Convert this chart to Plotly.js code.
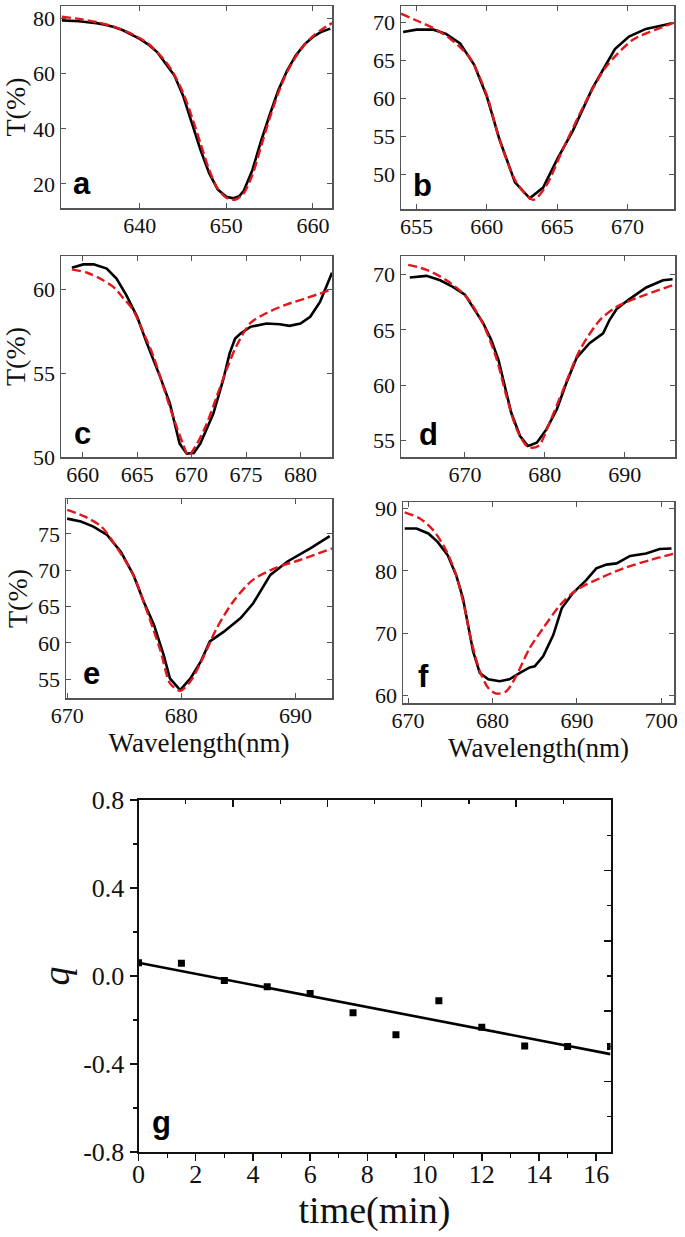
<!DOCTYPE html>
<html>
<head>
<meta charset="utf-8">
<script src="https://cdn.plot.ly/plotly-3.0.1.min.js"></script>
<style>html,body{margin:0;padding:0;background:#fff;}#chart{width:685px;height:1237px;}</style>
</head>
<body>
<div id="chart"></div>
<script>
// ---------------- data ----------------
// panel a
const aWl   = [631, 632, 633, 634, 635, 636, 637, 638, 639, 640, 641, 642, 643, 644, 645, 646, 647, 648, 649, 650, 650.8, 651.5, 652, 653, 654, 655, 656, 657, 658, 659, 660, 661, 662];
const aMeas = [79.3, 79.2, 79.0, 78.6, 78.3, 77.7, 76.9, 75.8, 74.3, 72.6, 70.5, 67.8, 63.6, 59.3, 52.0, 42.0, 32.5, 24.0, 18.0, 15.4, 14.8, 15.6, 17.5, 25.0, 35.5, 45.0, 54.0, 61.0, 66.5, 70.5, 73.3, 75.2, 76.3];
const aFitWl = [631, 633, 635, 637, 639, 641, 643, 644, 645, 646, 647, 648, 649, 650, 651, 652, 653, 654, 655, 656, 657, 658, 659, 660, 661, 662.2];
const aFit   = [80.6, 79.8, 78.7, 77.0, 74.5, 70.8, 64.3, 59.5, 53.0, 44.5, 34.8, 25.3, 18.3, 15.0, 14.3, 16.6, 23.2, 33.5, 43.8, 53.0, 60.5, 66.0, 70.4, 73.6, 76.0, 78.3];
// panel b
const bWl   = [654.05, 655.0, 656.2, 657.1, 658.1, 659.1, 660.0, 660.9, 662.0, 663.05, 664.0, 665.05, 666.1, 667.5, 669.1, 670.1, 671.3, 673.1];
const bMeas = [68.7, 69.0, 69.0, 68.45, 67.2, 64.4, 60.25, 54.6, 49.0, 46.9, 48.3, 52.2, 55.7, 61.3, 66.45, 68.1, 69.1, 69.8];
const bFitWl = [653.9, 655.0, 656.2, 657.4, 658.8, 660.0, 660.9, 662.1, 663.3, 664.2, 665.4, 667.1, 668.5, 670.4, 672.0, 673.3];
const bFit   = [71.1, 70.2, 69.2, 67.8, 65.3, 60.4, 54.6, 49.0, 46.7, 48.5, 53.3, 59.8, 64.2, 67.7, 69.0, 69.9];
// panel c
const cWl   = [659.0, 660.05, 661.0, 662.2, 663.1, 664.0, 665.0, 665.9, 667.1, 668.0, 668.9, 669.55, 670.2, 670.8, 672.0, 672.9, 673.5, 674.0, 674.5, 675.4, 676.9, 678.1, 679.0, 680.0, 680.9, 681.8, 682.9];
const cMeas = [61.3, 61.5, 61.5, 61.25, 60.65, 59.66, 58.37, 56.77, 54.8, 53.2, 50.8, 50.2, 50.24, 50.8, 52.6, 54.6, 56.2, 57.07, 57.37, 57.77, 57.97, 57.93, 57.83, 57.97, 58.37, 59.26, 61.0];
const cFitWl = [659.0, 660.4, 661.6, 662.8, 663.7, 664.6, 665.6, 666.5, 667.4, 668.3, 669.2, 669.7, 670.5, 671.4, 672.3, 673.2, 674.1, 675.4, 676.9, 678.7, 680.6, 682.9];
const cFit   = [61.2, 61.0, 60.65, 60.16, 59.5, 58.8, 57.4, 56.0, 54.2, 52.4, 50.8, 50.1, 50.8, 52.0, 53.6, 55.2, 56.6, 58.0, 58.6, 59.1, 59.5, 60.0];
// panel d
const dWl   = [663.1, 665.2, 666.9, 668.5, 670.0, 671.25, 672.3, 673.3, 674.2, 675.0, 675.8, 676.9, 677.9, 679.0, 680.2, 681.5, 682.7, 684.0, 685.6, 687.3, 688.1, 689.0, 690.6, 692.7, 694.8, 696.0];
const dMeas = [69.75, 69.9, 69.5, 68.9, 68.2, 66.8, 65.6, 64.1, 62.3, 59.9, 57.5, 55.4, 54.5, 54.8, 56.0, 57.8, 60.2, 62.5, 63.8, 64.7, 65.9, 66.9, 67.8, 68.85, 69.5, 69.6];
const dFitWl = [662.9, 665.2, 667.7, 670.2, 672.3, 674.0, 675.2, 676.5, 677.9, 679.2, 680.6, 682.3, 684.4, 686.9, 689.0, 691.9, 696.2];
const dFit   = [70.9, 70.45, 69.5, 68.0, 65.5, 62.3, 59.0, 56.0, 54.4, 54.5, 56.6, 59.6, 63.2, 65.9, 67.1, 68.0, 69.1];
// panel e
const eWl   = [670.0, 671.2, 672.3, 673.5, 674.7, 675.8, 676.7, 677.6, 678.45, 679.0, 679.9, 680.8, 681.7, 682.5, 683.7, 685.2, 686.3, 687.8, 689.3, 691.3, 693.0];
const eMeas = [77.1, 76.7, 76.0, 74.85, 72.55, 69.35, 65.7, 62.5, 58.35, 55.1, 53.5, 55.1, 57.4, 60.2, 61.5, 63.4, 65.45, 69.35, 71.2, 73.0, 74.7];
const eFitWl = [670.0, 671.5, 673.0, 674.4, 675.8, 677.0, 678.2, 679.0, 679.9, 680.8, 681.95, 683.1, 684.6, 686.3, 688.4, 690.4, 693.2];
const eFit   = [78.3, 77.4, 76.0, 73.0, 69.35, 64.3, 58.8, 54.45, 53.4, 54.7, 58.1, 62.0, 65.8, 68.7, 70.4, 71.4, 73.0];
// panel f
const fWl   = [669.6, 671.0, 672.4, 673.5, 674.7, 675.7, 676.5, 677.1, 677.7, 678.5, 679.5, 680.85, 682.0, 683.2, 684.4, 685.0, 686.0, 687.2, 688.2, 689.5, 691.1, 692.3, 693.5, 694.7, 696.3, 698.2, 699.8, 701.2];
const fMeas = [86.8, 86.8, 86.0, 84.65, 82.5, 79.3, 75.6, 71.3, 67.1, 63.6, 62.6, 62.3, 62.6, 63.6, 64.5, 64.7, 66.3, 69.7, 74.0, 76.4, 78.5, 80.4, 81.0, 81.2, 82.4, 82.8, 83.5, 83.6];
const fFitWl = [669.6, 671.4, 673.0, 674.5, 675.7, 676.7, 677.5, 678.5, 679.5, 680.5, 681.65, 682.8, 684.4, 686.0, 688.0, 689.9, 692.7, 695.5, 698.6, 701.6];
const fFit   = [89.4, 88.4, 86.5, 83.3, 79.3, 74.0, 68.7, 63.9, 61.2, 60.3, 60.7, 63.1, 67.6, 70.8, 74.5, 76.9, 78.8, 80.4, 81.7, 82.8];
// panel g
const tMin  = [0, 1.5, 3, 4.5, 6, 7.5, 9, 10.5, 12, 13.5, 15, 16.5];
const qVals = [0.060, 0.058, -0.021, -0.049, -0.079, -0.167, -0.267, -0.112, -0.233, -0.318, -0.321, -0.321];
const fitT  = [0, 16.5];
const fitQ  = [0.060, -0.355];
const qTickVals = [-0.8, -0.4, 0, 0.4, 0.8];
const qTickText = ['-0.8', '-0.4', '0.0', '0.4', '0.8'];
const panelLetters = ['a', 'b', 'c', 'd', 'e', 'f', 'g'];

// ---------------- layout helpers ----------------
const W = 685, H = 1237;
const SERIF = 'Liberation Serif';
const SANS = 'Liberation Sans';
const dx = (l, r) => [l / W, r / W];
const dy = (t, b) => [1 - b / H, 1 - t / H];

const panels = [
  {wl: aWl, m: aMeas, fw: aFitWl, f: aFit, xd: dx(61, 332),  yd: dy(6, 208),   xr: [630.9, 662.2], yr: [11.3, 84.5], xdt: 10, ydt: 20, ytitle: true,  xtitle: false, lx: 82,  ly: 184},
  {wl: bWl, m: bMeas, fw: bFitWl, f: bFit, xd: dx(401, 674), yd: dy(6, 209),   xr: [653.9, 673.3], yr: [45.5, 72.1], xdt: 5,  ydt: 5,  ytitle: false, xtitle: false, lx: 422, ly: 186},
  {wl: cWl, m: cMeas, fw: cFitWl, f: cFit, xd: dx(61, 332),  yd: dy(256, 457), xr: [658.0, 682.9], yr: [50, 62.0],   xdt: 5,  ydt: 5,  ytitle: true,  xtitle: false, lx: 82,  ly: 433},
  {wl: dWl, m: dMeas, fw: dFitWl, f: dFit, xd: dx(401, 675), yd: dy(256, 457), xr: [662, 696.3],   yr: [53.5, 71.7], xdt: 10, ydt: 5,  ytitle: false, xtitle: false, lx: 428, ly: 434},
  {wl: eWl, m: eMeas, fw: eFitWl, f: eFit, xd: dx(66, 332),  yd: dy(499, 698), xr: [669.9, 693.2], yr: [52.4, 79.8], xdt: 10, ydt: 5,  ytitle: true,  xtitle: true,  lx: 91,  ly: 673},
  {wl: fWl, m: fMeas, fw: fFitWl, f: fFit, xd: dx(403, 674), yd: dy(502, 703), xr: [669.4, 701.5], yr: [58.8, 91.05], xdt: 10, ydt: 10, ytitle: false, xtitle: true,  lx: 423, ly: 676}
];

const traces = [];
const layout = {
  width: W, height: H,
  margin: {l: 0, r: 0, t: 0, b: 0},
  paper_bgcolor: '#fff', plot_bgcolor: '#fff',
  showlegend: false,
  font: {family: SERIF, color: '#111'},
  annotations: []
};

panels.forEach((p, i) => {
  const n = i + 1;
  const xs = n === 1 ? '' : String(n);
  traces.push({x: p.wl, y: p.m, xaxis: 'x' + xs, yaxis: 'y' + xs, mode: 'lines', type: 'scatter',
               line: {color: '#000', width: 2.6}, hoverinfo: 'skip'});
  traces.push({x: p.fw, y: p.f, xaxis: 'x' + xs, yaxis: 'y' + xs, mode: 'lines', type: 'scatter',
               line: {color: '#e3161c', width: 2.4, dash: '9px,4px', shape: 'spline', smoothing: 0.8}, hoverinfo: 'skip'});
  layout['xaxis' + xs] = {
    domain: p.xd, anchor: 'y' + xs, range: p.xr, dtick: p.xdt, tick0: 0,
    showgrid: false, zeroline: false, showline: true, linecolor: '#555', linewidth: 1.5,
    mirror: 'ticks', ticks: 'inside', ticklen: 5, tickwidth: 1, tickcolor: '#555',
    ticklabelstandoff: -3,
    tickfont: {family: SERIF, size: 22, color: '#111'},
    title: p.xtitle ? {text: 'Wavelength(nm)', font: {family: SERIF, size: 27, color: '#111'}, standoff: 6} : {text: ''}
  };
  layout['yaxis' + xs] = {
    domain: p.yd, anchor: 'x' + xs, range: p.yr, dtick: p.ydt, tick0: 0,
    showgrid: false, zeroline: false, showline: true, linecolor: '#555', linewidth: 1.5,
    mirror: 'ticks', ticks: 'inside', ticklen: 5, tickwidth: 1, tickcolor: '#555',
    tickfont: {family: SERIF, size: 22, color: '#111'},
    title: p.ytitle ? {text: 'T(%)', font: {family: SERIF, size: 28, color: '#111'}, standoff: 2} : {text: ''}
  };
  layout.annotations.push({text: '<b>' + panelLetters[i] + '</b>', xref: 'paper', yref: 'paper',
    x: p.lx / W, y: 1 - p.ly / H, xanchor: 'center', yanchor: 'middle', showarrow: false,
    font: {family: SANS, size: 31, color: '#000'}});
});

// panel g
traces.push({x: fitT, y: fitQ, xaxis: 'x7', yaxis: 'y7', mode: 'lines', type: 'scatter',
             line: {color: '#000', width: 2.6}, hoverinfo: 'skip'});
traces.push({x: tMin, y: qVals, xaxis: 'x7', yaxis: 'y7', mode: 'markers', type: 'scatter',
             marker: {symbol: 'square', size: 7, color: '#000'}, hoverinfo: 'skip'});
traces.push({x: [], y: [], xaxis: 'x8', yaxis: 'y7', type: 'scatter', mode: 'lines', hoverinfo: 'skip'});
traces.push({x: [], y: [], xaxis: 'x7', yaxis: 'y8', type: 'scatter', mode: 'lines', hoverinfo: 'skip'});

const gX = dx(138.5, 610.5), gY = dy(800, 1152);
layout.xaxis7 = {
  domain: gX, anchor: 'y7', range: [0, 16.5], dtick: 2, tick0: 0,
  showgrid: false, zeroline: false, showline: true, linecolor: '#111', linewidth: 2,
  ticks: 'outside', ticklen: 7, tickwidth: 1.5, tickcolor: '#111',
  ticklabelstandoff: -9,
  minor: {dtick: 1, tick0: 0, ticks: 'outside', ticklen: 4, tickwidth: 1.2, tickcolor: '#111'},
  tickfont: {family: SERIF, size: 26, color: '#111'},
  title: {text: 'time(min)', font: {family: SERIF, size: 38, color: '#111'}, standoff: 0}
};
layout.yaxis7 = {
  domain: gY, anchor: 'x7', range: [-0.8, 0.8], tickmode: 'array', tickvals: qTickVals, ticktext: qTickText,
  showgrid: false, zeroline: false, showline: true, linecolor: '#111', linewidth: 2,
  ticks: 'outside', ticklen: 7, tickwidth: 1.5, tickcolor: '#111',
  minor: {dtick: 0.2, tick0: 0, ticks: 'outside', ticklen: 4, tickwidth: 1.2, tickcolor: '#111'},
  tickfont: {family: SERIF, size: 26, color: '#111'},
  title: {text: '<i>q</i>', font: {family: SERIF, size: 38, color: '#111'}, standoff: 2}
};
layout.xaxis8 = {
  overlaying: 'x7', side: 'top', anchor: 'y7', range: [0, 16.5], tick0: 0, dtick: 3.3,
  showgrid: false, zeroline: false, showline: true, linecolor: '#111', linewidth: 2,
  ticks: 'inside', ticklen: 7, tickwidth: 1.5, tickcolor: '#111', showticklabels: false,
  minor: {dtick: 1.65, tick0: 0, ticks: 'inside', ticklen: 4, tickwidth: 1.2, tickcolor: '#111'}
};
layout.yaxis8 = {
  overlaying: 'y7', side: 'right', anchor: 'x7', range: [-0.8, 0.8], tick0: -0.8, dtick: 0.32,
  showgrid: false, zeroline: false, showline: true, linecolor: '#111', linewidth: 2,
  ticks: 'inside', ticklen: 7, tickwidth: 1.5, tickcolor: '#111', showticklabels: false,
  minor: {dtick: 0.16, tick0: -0.8, ticks: 'inside', ticklen: 4, tickwidth: 1.2, tickcolor: '#111'}
};
layout.annotations.push({text: '<b>' + panelLetters[6] + '</b>', xref: 'paper', yref: 'paper',
  x: 161 / W, y: 1 - 1122 / H, xanchor: 'center', yanchor: 'middle', showarrow: false,
  font: {family: SANS, size: 31, color: '#000'}});

Plotly.newPlot('chart', traces, layout, {staticPlot: true, displayModeBar: false});
</script>
</body>
</html>
